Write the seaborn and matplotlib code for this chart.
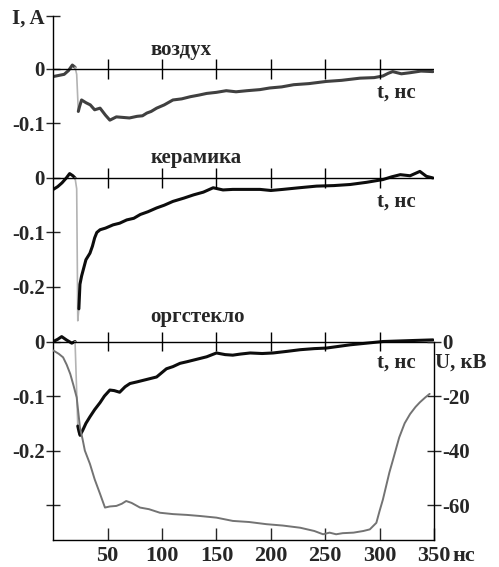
import matplotlib
matplotlib.use('Agg')
import matplotlib.pyplot as plt
import seaborn as sns

# Data: time in ns, current in A, voltage in kV
t_air = [0, 5, 10, 14, 17.5, 20, 21.5, 23, 24, 26, 30, 34, 38, 43, 48, 52, 58, 64, 70, 77,
         82, 86, 90, 95, 102, 110, 118, 126, 134, 141, 150, 159, 168, 178, 190, 199, 210, 221,
         235, 251, 265, 282, 295, 303, 308, 312, 320, 328, 338, 349]
i_air = [-0.014, -0.012, -0.010, -0.003, 0.007, 0.003, -0.01, -0.078, -0.07, -0.057, -0.062,
         -0.066, -0.075, -0.072, -0.085, -0.094, -0.088, -0.089, -0.090, -0.087, -0.086, -0.081,
         -0.078, -0.072, -0.066, -0.057, -0.055, -0.051, -0.048, -0.045, -0.043, -0.040, -0.042,
         -0.040, -0.038, -0.035, -0.033, -0.029, -0.027, -0.023, -0.021, -0.017, -0.016, -0.013,
         -0.008, -0.005, -0.009, -0.007, -0.004, -0.005]

t_cer = [0, 4, 8, 12, 15, 18, 20, 21.5, 22.5, 23.5, 24.5, 26, 27.6, 30, 33.7, 36, 38, 40, 43,
         48, 55, 61, 67.5, 74, 80, 87, 95, 102, 110, 120, 129, 138, 147, 156, 165, 179, 190,
         200, 211, 226, 242, 258, 273, 288, 303, 311, 319, 328, 337, 343, 349]
i_cer = [-0.021, -0.016, -0.009, 0.0, 0.008, 0.004, 0.0, -0.02, -0.262, -0.24, -0.195, -0.18,
         -0.168, -0.15, -0.138, -0.125, -0.11, -0.10, -0.095, -0.092, -0.086, -0.083, -0.077,
         -0.074, -0.067, -0.062, -0.055, -0.050, -0.043, -0.037, -0.031, -0.026, -0.018, -0.022,
         -0.021, -0.021, -0.021, -0.023, -0.021, -0.018, -0.015, -0.014, -0.012, -0.008, -0.003,
         0.002, 0.006, 0.004, 0.012, 0.003, 0.0]

t_org = [0, 4, 7.7, 12, 17, 20, 22.5, 23.6, 24.6, 27, 30, 33.7, 38, 43, 47, 52, 56, 61, 66,
         70.5, 77, 83, 89, 95, 104, 110, 116.5, 123, 129, 135, 141, 150, 158, 165, 172, 181,
         192, 202, 215, 227, 240, 251, 262, 273, 288, 303, 318, 333, 349]
i_org = [0.0, 0.004, 0.009, 0.003, -0.003, 0.0, -0.155, -0.165, -0.172, -0.163, -0.15, -0.138,
         -0.125, -0.112, -0.10, -0.089, -0.090, -0.093, -0.083, -0.077, -0.074, -0.071, -0.068,
         -0.065, -0.050, -0.046, -0.040, -0.037, -0.034, -0.031, -0.028, -0.021, -0.024, -0.025,
         -0.023, -0.021, -0.022, -0.021, -0.018, -0.015, -0.013, -0.012, -0.009, -0.006, -0.003,
         0.0, 0.001, 0.002, 0.003]

t_u = [0, 5, 9, 12.3, 15.6, 18.5, 21.5, 24.5, 27, 29, 33.7, 38, 43, 47.5, 52, 58, 63, 67, 72,
       79.7, 88, 98, 110, 123, 135, 150, 165, 180, 196, 211, 227, 240, 248, 254, 260, 266, 276,
       285, 291, 297, 300, 303, 306, 309, 312, 318, 323, 328, 333, 337, 342, 346]
u_org = [-3.3, -4.5, -5.8, -8.5, -11.9, -16, -20.5, -31.5, -36, -40, -44.9, -50.5, -55.9, -60.9,
         -60.5, -60.3, -59.5, -58.5, -59.2, -60.9, -61.5, -62.8, -63.3, -63.6, -64.0, -64.6,
         -65.8, -66.2, -67.0, -67.5, -68.3, -69.5, -70.7, -70.1, -70.7, -70.3, -70.1, -69.5,
         -68.9, -66.5, -62.1, -58, -53, -48, -43.8, -35.2, -30, -26.6, -24, -22.3, -20.5, -19.2]

names = ['воздух', 'керамика', 'оргстекло']
offsets = [0.0, -0.2, -0.5]          # where each trace's zero sits on the shared axis
drops = [(5, 7), (6, 9), (5, 6)]     # fast front, drawn faint
x_ticks = [50, 100, 150, 200, 250, 300, 350]
u_ticks = [0, -20, -40, -60]

sns.set_style('ticks')
plt.rcParams['font.family'] = ['Liberation Serif', 'DejaVu Serif']
plt.rcParams['font.weight'] = 'bold'

fig = plt.figure(figsize=(4.99, 5.67), dpi=100)
ax = fig.add_axes([53.3 / 499, 27 / 567, (434 - 53.3) / 499, (540 - 16) / 567])
ymin, ymax = -0.864, 0.097
ax.set_xlim(0, 350)
ax.set_ylim(ymin, ymax)

traces = [(t_air, i_air, '0.25'), (t_cer, i_cer, '0.05'), (t_org, i_org, '0.05')]
for (t, i, col), off, (a, b) in zip(traces, offsets, drops):
    y = [v + off for v in i]
    sns.lineplot(x=t[:a + 1], y=y[:a + 1], ax=ax, color=col, lw=2.2, sort=False, estimator=None)
    sns.lineplot(x=t[a:b + 1], y=y[a:b + 1], ax=ax, color='0.7', lw=1.2, sort=False, estimator=None)
    sns.lineplot(x=t[b:], y=y[b:], ax=ax, color=col, lw=2.2, sort=False, estimator=None)
    # zero line of each trace with its time ticks
    ax.plot([0, 350], [off, off], color='black', lw=1.0)
    ax.vlines(x_ticks[:-1], off - 0.018, off + 0.018, color='black', lw=1.0)

# voltage on the right scale: 0 kV at the third zero, 20 kV per 0.1 A
u_scale = 0.005
ax2 = ax.twinx()
ax2.set_ylim((ymin - offsets[2]) / u_scale, (ymax - offsets[2]) / u_scale)
sns.lineplot(x=t_u, y=u_org, ax=ax2, color='0.45', lw=1.4, sort=False, estimator=None)

# left axis ticks (three stacked scales)
ly = [ymax, 0, -0.1, -0.2, -0.3, -0.4, -0.5, -0.6, -0.7, -0.8]
ll = ['I, A', '0', '-0.1', '0', '-0.1', '-0.2', '0', '-0.1', '-0.2', '']
ax.set_yticks(ly)
ax.set_yticklabels(ll)
ax.tick_params(axis='y', direction='inout', length=10, width=1, pad=1, labelsize=15)
ax.set_xticks(x_ticks)
ax.set_xticklabels([str(v) for v in x_ticks])
ax.tick_params(axis='x', direction='in', length=9, width=1, pad=4, labelsize=16)
ax.annotate('нс', xy=(1, 0), xycoords='axes fraction', xytext=(13.5, -4),
            textcoords='offset points', ha='left', va='top', fontsize=16, fontweight='bold')

ax2.set_yticks(u_ticks)
ax2.set_yticklabels([str(v) for v in u_ticks])
ax2.tick_params(axis='y', direction='inout', length=10, width=1, pad=1, labelsize=15)

for s in ['top', 'right']:
    ax.spines[s].set_visible(False)
for s in ['top', 'left', 'bottom']:
    ax2.spines[s].set_visible(False)
ax2.spines['right'].set_bounds(ax2.get_ylim()[0], 0)
for sp in [ax.spines['left'], ax.spines['bottom'], ax2.spines['right']]:
    sp.set_linewidth(1.0)
    sp.set_color('black')

# trace names and axis captions
for name, y in zip(names, [0.035, -0.163, -0.455]):
    ax.text(89, y, name, ha='left', va='center', fontsize=15, fontweight='bold')
for y in [-0.0435, -0.2435, -0.539]:
    ax.text(297.5, y, 't, нс', ha='left', va='center', fontsize=15, fontweight='bold')
ax.text(350.5, -0.539, 'U, кВ', ha='left', va='center', fontsize=15, fontweight='bold')

fig.savefig('out.png', dpi=100)
